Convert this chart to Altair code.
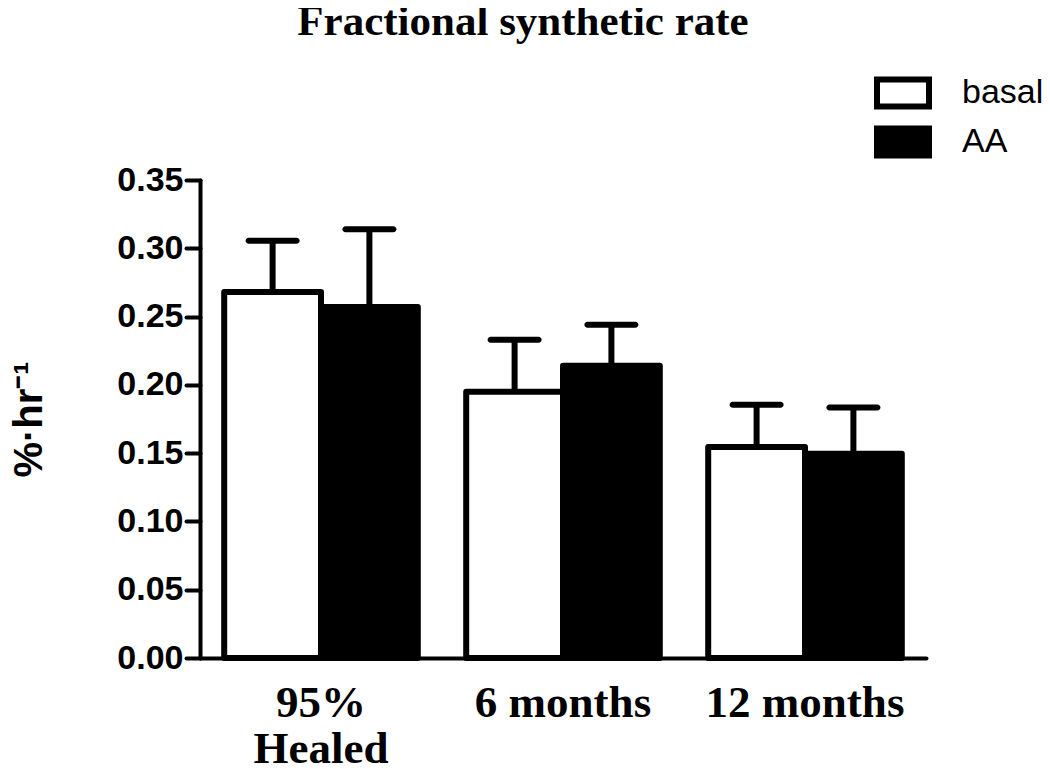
import altair as alt
import pandas as pd

groups = ["95% Healed", "6 months", "12 months"]
conditions = ["basal", "AA"]
basal = [0.268, 0.195, 0.1545]
aa = [0.257, 0.214, 0.1495]
basal_err = [0.0375, 0.038, 0.031]
aa_err = [0.057, 0.030, 0.034]

rows = []
for i, g in enumerate(groups):
    rows.append({"group": g, "condition": "basal", "value": basal[i], "upper": basal[i] + basal_err[i]})
    rows.append({"group": g, "condition": "AA", "value": aa[i], "upper": aa[i] + aa_err[i]})
df = pd.DataFrame(rows)

x_enc = alt.X(
    "group:N",
    sort=groups,
    scale=alt.Scale(paddingInner=0.2, paddingOuter=0.1),
    axis=alt.Axis(
        title=None,
        labelExpr="datum.label == '95% Healed' ? ['95%', 'Healed'] : datum.label",
        labelFont="Liberation Serif",
        labelFontSize=45,
        labelFontWeight="bold",
        labelLineHeight=46,
        labelAngle=0,
        labelPadding=22,
        labelLimit=500,
        ticks=False,
        domainWidth=4,
        domainColor="black",
        domainCap="round",
        labelColor="black",
    ),
)
xoff = alt.XOffset("condition:N", sort=conditions, scale=alt.Scale(paddingInner=0, paddingOuter=0))

y_enc = alt.Y(
    "value:Q",
    scale=alt.Scale(domain=[0, 0.35], nice=False),
    axis=alt.Axis(
        title="%·hr⁻¹",
        values=[0, 0.05, 0.1, 0.15, 0.2, 0.25, 0.3, 0.35],
        format=".2f",
        labelFont="Liberation Sans",
        labelFontSize=34,
        labelFontWeight="bold",
        labelColor="black",
        labelPadding=3,
        tickSize=14,
        tickWidth=4,
        tickColor="black",
        tickCap="round",
        domainWidth=4,
        domainColor="black",
        domainCap="round",
        grid=False,
        titleFont="Liberation Sans",
        titleFontSize=40,
        titleFontWeight="bold",
        titleColor="black",
        titleAngle=270,
        titleX=-159,
        titleY=239,
        titleAlign="center",
        titleBaseline="alphabetic",
    ),
)

bars = alt.Chart(df).mark_bar(stroke="black", strokeWidth=6, strokeJoin="round").encode(
    x=x_enc,
    xOffset=xoff,
    y=y_enc,
    fill=alt.Fill(
        "condition:N",
        sort=conditions,
        scale=alt.Scale(domain=conditions, range=["white", "black"]),
        legend=alt.Legend(
            title=None,
            orient="none",
            legendX=680,
            legendY=-110,
            symbolType="M-1.3,-0.68H1.3V0.68H-1.3Z",
            symbolSize=1600,
            symbolStrokeColor="black",
            symbolStrokeWidth=6,
            labelFont="Liberation Sans",
            labelFontSize=34,
            labelColor="black",
            labelOffset=36,
            rowPadding=-3,
            padding=0,
        ),
    ),
)

stems = alt.Chart(df).mark_rule(color="black", strokeWidth=6).encode(
    x=alt.X("group:N", sort=groups),
    xOffset=xoff,
    y="value:Q",
    y2="upper:Q",
)

caps = alt.Chart(df).mark_tick(color="black", thickness=6, size=54, cornerRadius=3, opacity=1).encode(
    x=alt.X("group:N", sort=groups),
    xOffset=xoff,
    y="upper:Q",
)

chart = (
    alt.layer(bars, stems, caps)
    .properties(
        width=726,
        height=478,
        background="white",
        title=alt.TitleParams(
            "Fractional synthetic rate",
            font="Liberation Serif",
            fontSize=43,
            fontWeight="bold",
            color="black",
            anchor="middle",
            frame="group",
            dx=-40,
            dy=-22,
        ),
        autosize=alt.AutoSizeParams(type="none"),
        padding={"left": 192, "top": 172, "right": 116, "bottom": 125},
    )
    .configure_view(stroke="transparent", strokeWidth=0)
)

chart.save("out.html", embed_options={"renderer": "svg", "actions": False})
